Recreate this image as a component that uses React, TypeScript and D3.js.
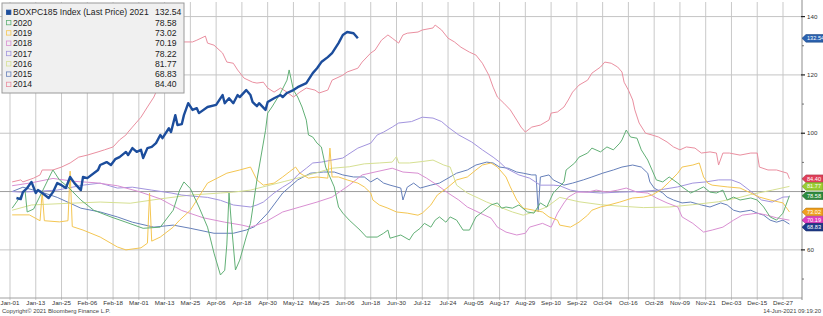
import React from 'react';
import * as d3 from 'd3';

type Pt = [number, number]; // [day of year, index value]

const tickLabels = ["Jan-01","Jan-13","Jan-25","Feb-06","Feb-18","Mar-01","Mar-13","Mar-25","Apr-06","Apr-18","Apr-30","May-12","May-25","Jun-06","Jun-18","Jun-30","Jul-12","Jul-24","Aug-05","Aug-17","Aug-29","Sep-10","Sep-22","Oct-04","Oct-16","Oct-28","Nov-09","Nov-21","Dec-03","Dec-15","Dec-27"];
const tickDays = [0,12,24,36,48,60,72,84,96,108,120,132,144,156,168,180,192,204,216,228,240,252,264,276,288,300,312,324,336,348,360];

const yMajor = [60, 80, 100, 120, 140];
const yLabelled = [60, 100, 120, 140]; // 80 is covered by the value tags
const yMinor = [50, 70, 90, 110, 130];

const s2021: Pt[] = [[3,77.8],[5,77.4],[6,79.8],[8,81.2],[10,83.3],[12,79.5],[13,80.5],[15,79.5],[18,77.8],[20,79.8],[22,82.9],[24,82.2],[26,81.2],[28,85.0],[30,82.9],[33,80.5],[34,85.0],[36,84.6],[41,87.4],[42,89.1],[45,90.1],[47,89.1],[49,91.1],[51,91.8],[54,93.6],[55,92.5],[57,94.9],[59,93.6],[61,94.3],[62,91.5],[64,94.9],[66,95.3],[68,96.6],[70,99.4],[71,98.3],[74,101.7],[75,100.4],[77,106.2],[78,102.8],[80,103.1],[81,106.2],[83,110.3],[85,108.0],[87,108.6],[88,106.9],[92,109.0],[96,109.7],[99,113.1],[100,110.3],[102,112.0],[104,110.3],[106,113.1],[107,112.4],[110,114.8],[112,113.1],[113,110.7],[115,109.3],[116,110.3],[119,108.0],[120,110.7],[123,112.0],[126,113.1],[127,112.4],[129,113.8],[132,114.8],[134,115.8],[136,116.5],[138,117.2],[141,120.6],[143,122.3],[145,124.4],[148,126.1],[150,127.5],[153,130.9],[155,133.7],[157,134.7],[160,134.3],[162,132.54]];

const s2020: Pt[] = [[1,74.3],[7,80.5],[8,73.0],[11,74.0],[15,80.0],[19,86.0],[20,87.4],[23,84.0],[27,81.6],[33,77.1],[39,73.6],[47,71.3],[54,69.5],[62,67.4],[70,67.8],[76,73.6],[79,80.5],[81,83.3],[84,81.0],[88,74.7],[92,67.8],[95,58.9],[98,51.4],[100,53.0],[101,62.0],[102,79.5],[103,70.0],[105,53.1],[107,56.5],[110,64.4],[112,69.1],[115,84.0],[119,101.0],[120,106.9],[122,109.0],[126,113.8],[129,118.2],[130,121.7],[132,114.8],[134,112.4],[136,109.0],[138,104.5],[139,99.4],[141,98.7],[143,96.6],[145,95.3],[147,88.4],[149,85.0],[151,81.6],[153,74.7],[155,72.6],[158,70.2],[163,66.8],[166,64.4],[171,64.4],[174,65.7],[176,66.8],[177,64.0],[182,65.1],[186,63.4],[188,65.7],[191,67.4],[193,69.1],[196,67.8],[198,70.2],[200,71.3],[203,69.5],[205,71.3],[208,70.2],[211,66.8],[214,66.8],[217,71.3],[220,73.0],[224,75.4],[227,76.1],[229,74.3],[231,74.7],[234,74.3],[237,75.4],[241,73.0],[244,72.6],[247,76.1],[250,74.7],[253,79.5],[258,83.3],[259,87.4],[263,89.8],[265,91.8],[269,93.2],[271,94.9],[275,93.6],[278,95.3],[281,94.3],[284,96.6],[285,97.7],[287,101.1],[289,98.7],[292,98.3],[294,94.3],[297,90.8],[299,87.4],[301,84.0],[304,83.3],[307,85.0],[311,82.9],[313,81.6],[317,79.5],[320,80.5],[323,81.6],[326,79.8],[329,79.5],[332,80.5],[334,77.1],[337,78.1],[340,77.1],[345,77.8],[348,77.1],[351,74.7],[354,71.3],[357,70.2],[360,72.6],[363,78.58]];

const s2019: Pt[] = [[1,72.0],[9,72.0],[14,70.0],[15,80.0],[16,70.0],[23,69.6],[27,70.0],[28,87.0],[29,68.0],[34,66.8],[42,64.4],[50,61.0],[54,60.0],[61,60.7],[64,62.3],[65,79.5],[66,63.0],[70,64.4],[76,67.8],[79,70.2],[84,73.6],[92,82.9],[101,86.3],[107,87.4],[112,88.4],[115,84.0],[118,82.2],[123,82.9],[127,85.0],[130,86.7],[133,88.4],[135,86.3],[139,84.6],[143,85.0],[148,84.6],[149,94.9],[150,85.0],[153,85.0],[157,84.0],[162,82.9],[165,81.6],[168,79.5],[169,77.1],[172,75.4],[176,74.3],[180,73.0],[185,72.6],[190,71.9],[192,72.6],[196,75.4],[199,78.8],[204,81.5],[208,84.0],[213,85.0],[217,87.4],[220,89.1],[224,89.8],[227,88.4],[231,85.0],[233,81.6],[236,77.1],[239,74.3],[244,73.6],[248,73.0],[251,71.3],[255,70.2],[256,68.5],[261,67.8],[265,69.5],[269,71.9],[271,73.6],[275,74.7],[279,75.4],[284,76.4],[290,77.8],[295,78.1],[299,78.8],[303,80.5],[307,83.3],[311,86.3],[313,88.4],[318,89.1],[321,89.8],[323,85.0],[325,82.9],[327,82.2],[334,81.6],[340,81.2],[345,79.5],[349,78.1],[354,77.1],[360,76.1],[363,73.02]];

const s2018: Pt[] = [[1,82.0],[10,83.0],[20,84.5],[30,83.5],[40,83.0],[50,82.0],[60,80.0],[70,77.5],[80,73.5],[90,71.0],[100,69.5],[108,68.5],[112,67.8],[119,69.6],[127,73.0],[135,74.7],[143,76.4],[150,78.1],[158,82.2],[164,85.7],[170,86.7],[178,88.0],[183,86.7],[190,86.3],[194,84.6],[199,82.2],[204,79.5],[209,77.1],[213,74.7],[219,72.6],[224,70.9],[227,67.8],[231,66.1],[236,65.1],[240,65.7],[242,67.8],[248,69.1],[252,67.8],[255,72.6],[258,76.1],[260,78.1],[264,79.8],[269,79.8],[273,80.5],[278,79.8],[283,80.5],[287,81.2],[292,79.8],[297,79.5],[301,77.8],[306,76.1],[311,74.7],[313,71.3],[318,69.1],[323,66.1],[327,66.8],[332,67.8],[337,70.2],[341,71.9],[348,72.6],[352,72.0],[357,71.0],[363,70.19]];

const s2017: Pt[] = [[1,80.0],[5,79.8],[11,80.0],[22,80.5],[34,82.2],[42,82.9],[50,81.2],[57,81.5],[66,80.5],[75,79.5],[80,78.8],[84,78.5],[92,78.0],[98,77.0],[104,75.4],[112,74.7],[115,75.4],[118,76.4],[123,79.5],[127,81.5],[131,83.3],[134,85.7],[138,88.0],[141,89.8],[145,90.1],[150,90.8],[155,91.5],[157,92.5],[162,94.9],[168,96.6],[171,99.4],[174,100.4],[178,102.1],[181,103.5],[187,104.0],[192,105.5],[197,105.2],[201,104.0],[204,102.1],[209,99.4],[215,97.0],[220,94.3],[225,91.8],[228,90.1],[231,88.0],[237,85.7],[242,84.6],[247,82.2],[253,82.2],[256,82.0],[261,80.5],[265,80.0],[275,79.5],[284,79.8],[293,80.0],[302,80.5],[311,81.6],[318,82.9],[324,83.3],[330,84.0],[336,84.0],[340,82.9],[346,79.5],[350,77.1],[355,76.4],[360,78.1],[363,78.22]];

const s2016: Pt[] = [[1,73.6],[10,75.4],[28,76.0],[42,76.4],[56,76.0],[70,77.5],[84,78.8],[98,79.5],[104,79.8],[112,80.5],[120,82.0],[128,83.5],[136,85.0],[143,86.5],[150,88.0],[158,88.5],[165,89.5],[172,89.8],[178,90.1],[180,92.0],[181,89.8],[186,89.8],[192,90.3],[197,90.8],[202,89.1],[205,88.4],[208,82.2],[213,79.5],[218,77.8],[222,76.4],[228,74.7],[234,73.0],[239,71.9],[244,73.0],[250,74.7],[256,78.0],[265,76.5],[275,75.5],[284,75.0],[295,74.5],[307,74.7],[318,75.5],[330,76.5],[340,78.0],[345,79.0],[355,80.5],[363,81.77]];

const s2015: Pt[] = [[1,80.0],[6,81.5],[11,80.5],[16,79.5],[22,78.0],[28,76.0],[33,74.3],[42,73.0],[50,71.3],[57,69.5],[67,67.8],[76,68.5],[84,67.4],[95,65.7],[104,65.7],[110,66.8],[114,68.0],[120,72.6],[127,79.5],[134,84.0],[140,86.3],[146,86.7],[151,86.7],[155,85.7],[160,85.0],[165,85.0],[168,83.3],[171,84.6],[174,82.9],[177,82.2],[182,81.2],[183,77.1],[185,81.5],[188,82.9],[191,81.2],[196,82.2],[200,82.9],[204,84.6],[208,86.3],[213,87.4],[217,89.1],[222,90.1],[225,89.8],[228,88.4],[232,88.0],[236,86.7],[239,86.3],[243,85.7],[245,85.7],[246,73.0],[247,85.0],[251,85.7],[253,84.0],[258,82.2],[262,82.9],[267,84.0],[271,85.0],[276,86.3],[281,87.4],[285,88.4],[290,89.1],[294,88.4],[297,86.3],[298,83.3],[300,81.2],[304,79.5],[306,78.1],[309,77.1],[313,76.1],[317,76.4],[322,75.4],[326,74.7],[331,76.1],[334,75.4],[337,73.6],[340,73.0],[345,73.6],[348,72.6],[351,71.9],[354,70.2],[357,69.5],[360,70.2],[363,68.83]];

const s2014: Pt[] = [[1,83.3],[5,84.0],[6,83.3],[11,84.6],[14,85.7],[15,87.4],[20,87.4],[24,88.4],[28,89.8],[32,91.8],[36,92.5],[41,93.6],[44,94.3],[48,95.3],[51,97.7],[54,99.4],[55,100.4],[57,102.1],[61,105.5],[64,109.0],[67,112.4],[69,115.8],[71,120.6],[74,124.0],[77,128.5],[80,131.3],[85,131.3],[87,131.9],[91,133.3],[92,130.9],[95,130.2],[99,127.5],[101,124.4],[104,124.0],[106,121.7],[109,118.9],[113,117.5],[115,117.2],[118,117.5],[120,115.5],[123,114.1],[126,115.5],[129,114.1],[132,112.4],[135,114.1],[138,115.5],[142,114.8],[144,113.8],[148,114.8],[150,118.2],[155,119.9],[157,121.0],[162,122.3],[164,124.4],[168,127.5],[170,128.5],[173,131.9],[176,133.7],[178,132.6],[181,130.9],[183,133.7],[185,134.3],[190,134.7],[192,135.4],[197,136.1],[198,137.1],[201,135.4],[204,132.6],[207,131.3],[210,129.5],[214,127.8],[217,126.8],[220,124.0],[223,119.9],[225,115.8],[227,112.4],[230,110.3],[233,108.0],[236,104.5],[238,102.1],[240,100.4],[243,102.1],[247,102.8],[251,104.5],[252,106.9],[255,107.3],[258,109.0],[260,111.4],[262,114.1],[265,116.5],[269,118.2],[271,120.6],[275,122.7],[277,124.4],[280,124.0],[283,122.7],[285,121.0],[286,117.5],[288,114.8],[290,111.4],[291,108.0],[293,103.5],[296,100.0],[299,99.4],[302,98.7],[306,97.0],[309,95.3],[312,94.3],[315,95.3],[319,94.9],[322,93.2],[326,93.6],[329,93.2],[330,89.1],[332,93.2],[335,93.2],[340,92.5],[345,93.2],[348,93.2],[349,88.4],[353,87.4],[357,87.4],[362,86.3],[363,84.40]];

const years = ["2021", "2020", "2019", "2018", "2017", "2016", "2015", "2014"];
const lastValues = [132.54, 78.58, 73.02, 70.19, 78.22, 81.77, 68.83, 84.40];
const seriesData = [s2021, s2020, s2019, s2018, s2017, s2016, s2015, s2014];
const lineColors = ["#1c4d9c", "#62b076", "#f4c652", "#d98fd2", "#a294de", "#d6e092", "#6680ba", "#ea8fa0"];
const tagColors = ["#2b62b0", "#2e8b3e", "#f0a020", "#e040c0", "#6a7fd0", "#9acd32", "#1e3a8a", "#e0405a"];

export default function App() {
  const W = 823, H = 316;
  const axisX = 802;
  const plotTop = 2, plotBottom = 298;
  const x = d3.scaleLinear().domain([0, 360]).range([10, 783]);
  const y = d3.scaleLinear().domain([43.5, 145]).range([plotBottom, plotTop]);
  const line = d3.line<Pt>().x(d => x(d[0])).y(d => y(d[1]));

  // value tags on the right axis (2017's tag is hidden beneath 2020's in the reference)
  const tagIdx = [7, 5, 1, 2, 3, 6];
  const tagList = tagIdx.map(i => ({ i, cy: y(lastValues[i]) })).sort((a, b) => a.cy - b.cy);
  for (let k = 1; k < tagList.length; k++) {
    if (tagList[k].cy - tagList[k - 1].cy < 7) tagList[k].cy = tagList[k - 1].cy + 7;
  }
  const mainTag = { i: 0, cy: y(lastValues[0]) };

  const tag = (t: { i: number; cy: number }, key: string) => {
    const cy = t.cy;
    const pts = `${axisX},${cy} ${axisX + 4},${cy - 3.8} ${W},${cy - 3.8} ${W},${cy + 3.8} ${axisX + 4},${cy + 3.8}`;
    return (
      <g key={key}>
        <polygon points={pts} fill={tagColors[t.i]} stroke={d3.color(tagColors[t.i])!.darker(0.8).toString()} strokeWidth={0.6} />
        <text x={axisX + 5} y={cy} dy="0.35em" fontSize={5.6} fill="#ffffff">
          {lastValues[t.i].toFixed(2)}
        </text>
      </g>
    );
  };

  const drawOrder = [7, 6, 5, 4, 3, 2, 1, 0];
  const rowY = (k: number) => 12.3 + 10.3 * k;

  return (
    <svg width={W} height={H} style={{ position: 'absolute', left: 0, top: 0, background: '#ffffff' }}
      fontFamily="Liberation Sans, Arial, sans-serif">
      <rect x={0} y={0} width={W} height={H} fill="#ffffff" />
      {tickDays.map((d, i) => (
        <line key={'vg' + i} x1={x(d)} x2={x(d)} y1={plotTop} y2={plotBottom + 2} stroke="#c9c9c9" strokeWidth={1} />
      ))}
      {yMajor.map(v => (
        <line key={'hg' + v} x1={0} x2={axisX} y1={y(v)} y2={y(v)} stroke={v === 80 ? '#9d9d9d' : '#c4c4c4'} strokeWidth={1} />
      ))}
      <line x1={0} x2={axisX} y1={plotBottom} y2={plotBottom} stroke="#a0a0a0" strokeWidth={1} />
      {drawOrder.map(i => (
        <path key={'s' + years[i]} d={line(seriesData[i]) || ''} fill="none" stroke={lineColors[i]}
          strokeWidth={i === 0 ? 2.4 : 1} strokeLinejoin="round" />
      ))}
      <line x1={axisX} x2={axisX} y1={0} y2={plotBottom + 2} stroke="#8c8c8c" strokeWidth={1} />
      {yMinor.map(v => (
        <line key={'mt' + v} x1={axisX} x2={axisX + 2} y1={y(v)} y2={y(v)} stroke="#555" strokeWidth={0.8} />
      ))}
      {yMajor.map(v => (
        <line key={'yt' + v} x1={axisX - 1} x2={axisX + 3} y1={y(v)} y2={y(v)} stroke="#222" strokeWidth={1.2} />
      ))}
      {yLabelled.map(v => (
        <text key={'yl' + v} x={axisX + 5} y={y(v)} dy="0.35em" fontSize={6.2} fill="#333">{v}</text>
      ))}
      {tickDays.map((d, i) => (
        <text key={'xl' + i} x={x(d)} y={305} textAnchor="middle" fontSize={6.2} fill="#333">{tickLabels[i]}</text>
      ))}
      {tagList.map(t => tag(t, 't' + t.i))}
      {tag(mainTag, 'tm')}
      <rect x={2} y={3} width={182} height={90} fill="#f0f0f0" stroke="#9a9a9a" strokeWidth={1} />
      {years.map((yr, k) => (
        <g key={'lg' + yr}>
          <rect x={6.5} y={rowY(k) - 2.2} width={4.4} height={4.4}
            fill={k === 0 ? lineColors[0] : 'none'} stroke={lineColors[k]} strokeWidth={0.8} />
          <text x={13} y={rowY(k)} dy="0.35em" fontSize={8.6} fill="#222">
            {k === 0 ? 'BOXPC185 Index (Last Price) 2021' : yr}
          </text>
          <text x={155} y={rowY(k)} dy="0.35em" fontSize={8.6} fill="#222">{lastValues[k].toFixed(2)}</text>
        </g>
      ))}
      <text x={2} y={313} fontSize={5.9} fill="#444">Copyright© 2021 Bloomberg Finance L.P.</text>
      <text x={821} y={313} textAnchor="end" fontSize={5.9} fill="#444">14-Jun-2021 09:19:20</text>
    </svg>
  );
}
